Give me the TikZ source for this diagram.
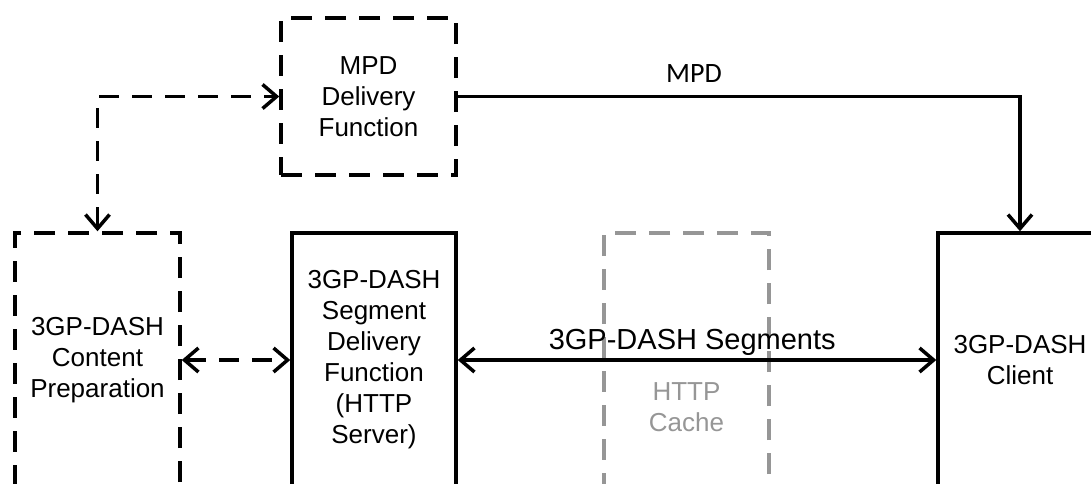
\documentclass[tikz,border=0pt]{standalone}
\usepackage{fontspec}
\setmainfont{Liberation Sans}
\newfontfamily\labelfont{Carlito}
\usetikzlibrary{arrows.meta}
\definecolor{cachegray}{RGB}{150,150,150}

\begin{document}
\begin{tikzpicture}[x=1pt,y=-1pt]
	\tikzset{box/.style={rectangle, draw, line width=3.5pt, inner sep=0pt, align=center, font=\fontsize{26}{31}\selectfont},
		dashbox/.style={box, dash pattern=on 21pt off 13pt},
		cachebox/.style={dashbox, draw=cachegray, text=cachegray},
		barb/.style={line width=3.5pt},
		twoway/.style={barb, {Straight Barb[length=14pt,width=24pt]}-{Straight Barb[length=14pt,width=24pt]}},
		oneway/.style={barb, -{Straight Barb[length=14pt,width=24pt]}}}

	\useasboundingbox (0,0) rectangle (1091,483);
	\clip (0,0) rectangle (1091,483);

	\node [dashbox, minimum width=175pt, minimum height=157pt] (mpd) at (368.5,96.5)	{MPD\\Delivery\\Function};
	\node [dashbox, minimum width=165pt, minimum height=254pt] (prep) at (97.5,360)	{3GP-DASH\\Content\\Preparation};
	\node [box, minimum width=164pt, minimum height=254pt] (seg) at (374,360)		{3GP-DASH\\Segment\\Delivery\\Function\\(HTTP\\Server)};
	\node [cachebox, minimum width=165pt, minimum height=348pt] (cache) at (686.5,407)	{HTTP\\Cache};
	\node [box, minimum width=164pt, minimum height=254pt] (client) at (1020,360)	{3GP-DASH\\Client};

	\draw [twoway, dash pattern=on 20pt off 13pt] (prep.north) |- (mpd.west);
	\draw [twoway, dash pattern=on 20pt off 13pt] (prep.east) -- (seg.west);
	\draw [oneway] (mpd.east) -| (client.north)
		node [pos=0.21, anchor=base, yshift=14pt, font=\labelfont\fontsize{28}{32}\selectfont] {MPD};
	\draw [twoway] (seg.east) -- (client.west)
		node [pos=0.49, anchor=base, yshift=11pt, font=\fontsize{29}{34}\selectfont] {3GP-DASH Segments};
\end{tikzpicture}
\end{document}
